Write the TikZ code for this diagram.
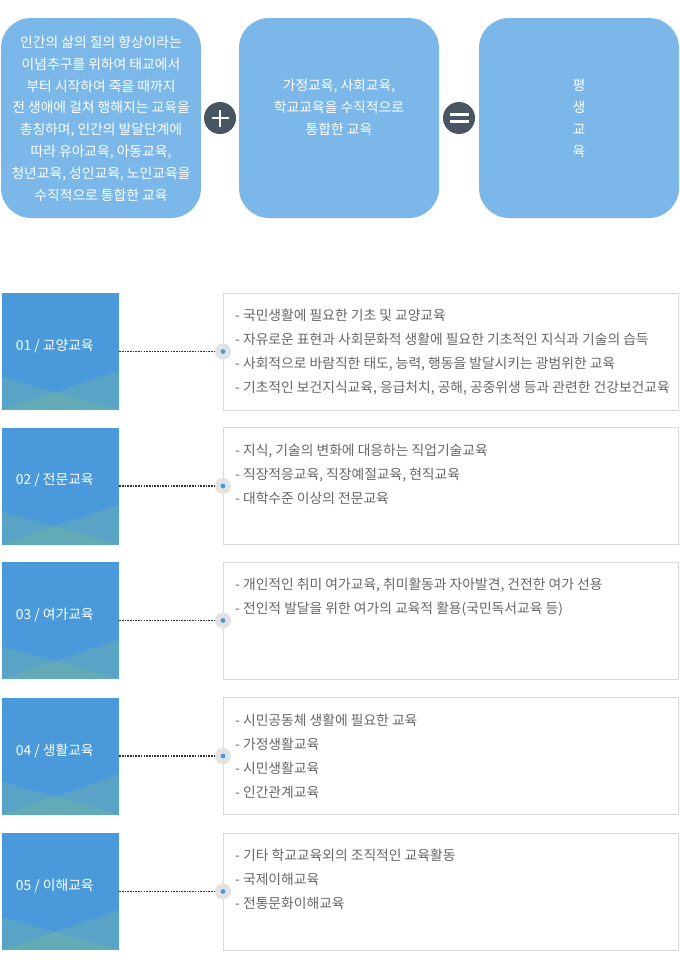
\documentclass[tikz,border=0pt]{standalone}
\usepackage{fontspec}
\setmainfont{Noto Sans CJK KR}
\definecolor{skyblue}{HTML}{7BB8E9}
\definecolor{rowblue}{HTML}{4A9ADB}
\definecolor{slate}{HTML}{485664}
\definecolor{linegray}{HTML}{D9D9D9}
\definecolor{txtgray}{HTML}{666666}
\definecolor{knobgray}{HTML}{E2E2E2}
\definecolor{dotgray}{HTML}{333333}
\definecolor{wavegreen}{RGB}{125,190,150}
\begin{document}
\begin{tikzpicture}[x=1pt,y=-1pt,
  topbox/.style={fill=skyblue,rounded corners=30pt,minimum width=200pt,minimum height=200pt,inner sep=0pt},
  toptext/.style={text=white,align=center,font=\fontsize{13.8}{21.8}\selectfont,inner sep=0pt},
  sign/.style={circle,fill=slate,minimum size=32pt,inner sep=0pt},
  rowbox/.style={fill=rowblue,minimum width=117pt,minimum height=117pt,inner sep=0pt},
  rowlabel/.style={text=white,font=\fontsize{13.8}{13.8}\selectfont,anchor=west,inner sep=0pt},
  wave/.style={fill=wavegreen,opacity=0.3},
  listbox/.style={draw=linegray,minimum width=455pt,minimum height=117pt,inner sep=0pt},
  listtext/.style={text=txtgray,align=left,font=\fontsize{13.8}{24}\selectfont,anchor=north west,inner sep=0pt},
  knob/.style={circle,fill=knobgray,minimum size=16pt,inner sep=0pt},
  link/.style={draw=dotgray,line width=1.6pt,dash pattern=on 1.6pt off 1.1pt}]
\useasboundingbox (0,0) rectangle (680,964);

% top: definition + integration = lifelong
\node (whole) [topbox] at (101,118) {};
\node (family) [topbox] at (339,118) {};
\node (lifelong) [topbox] at (579,118) {};
\node [toptext] at ([yshift=-0.5pt]whole.center) {인간의 삶의 질의 향상이라는\\이념추구를 위하여 태교에서\\부터 시작하여 죽을 때까지\\전 생애에 걸쳐 행해지는 교육을\\총칭하며, 인간의 발달단계에\\따라 유아교육, 아동교육,\\청년교육, 성인교육, 노인교육을\\수직적으로 통합한 교육};
\node [toptext,anchor=north] at (339,79) {가정교육, 사회교육,\\학교교육을 수직적으로\\통합한 교육};
\node [toptext,anchor=north] at (579,79) {평\\생\\교\\육};
\node (plus) [sign] at (220,118) {};
\node (equal) [sign] at (459,118) {};
\draw [white,line width=2.6pt] ([xshift=-8.5pt]plus.center) -- ([xshift=8.5pt]plus.center);
\draw [white,line width=2.6pt] ([yshift=-8.5pt]plus.center) -- ([yshift=8.5pt]plus.center);
\draw [white,line width=2.8pt] ([xshift=-9.5pt,yshift=3.2pt]equal.center) -- ([xshift=9.5pt,yshift=3.2pt]equal.center);
\draw [white,line width=2.8pt] ([xshift=-9.5pt,yshift=-3.2pt]equal.center) -- ([xshift=9.5pt,yshift=-3.2pt]equal.center);

% 01
\node (r1) [rowbox] at (60.5,351.5) {};
\fill [wave] ([yshift=33pt]r1.south west) -- (r1.south east) -- (r1.south west) -- cycle;
\fill [wave] ([yshift=40pt]r1.south east) -- (r1.south west) -- (r1.south east) -- cycle;
\node [rowlabel] at ([xshift=14pt,yshift=5.5pt]r1.west) {01 / 교양교육};
\node (l1) [listbox] at (450.5,351.5) {};
\node [listtext] at (235,309) {- 국민생활에 필요한 기초 및 교양교육\\- 자유로운 표현과 사회문화적 생활에 필요한 기초적인 지식과 기술의 습득\\- 사회적으로 바람직한 태도, 능력, 행동을 발달시키는 광범위한 교육\\- 기초적인 보건지식교육, 응급처치, 공해, 공중위생 등과 관련한 건강보건교육};
\node (k1) [knob] at (223,351.5) {};
\fill [rowblue] (k1) circle (2.4pt);
\draw [link] (r1.east) -- (k1.west);

% 02
\node (r2) [rowbox] at (60.5,486) {};
\fill [wave] ([yshift=33pt]r2.south west) -- (r2.south east) -- (r2.south west) -- cycle;
\fill [wave] ([yshift=40pt]r2.south east) -- (r2.south west) -- (r2.south east) -- cycle;
\node [rowlabel] at ([xshift=14pt,yshift=5.5pt]r2.west) {02 / 전문교육};
\node (l2) [listbox] at (450.5,486) {};
\node [listtext] at (235,443.5) {- 지식, 기술의 변화에 대응하는 직업기술교육\\- 직장적응교육, 직장예절교육, 현직교육\\- 대학수준 이상의 전문교육};
\node (k2) [knob] at (223,486) {};
\fill [rowblue] (k2) circle (2.4pt);
\draw [link] (r2.east) -- (k2.west);

% 03
\node (r3) [rowbox] at (60.5,620.5) {};
\fill [wave] ([yshift=33pt]r3.south west) -- (r3.south east) -- (r3.south west) -- cycle;
\fill [wave] ([yshift=40pt]r3.south east) -- (r3.south west) -- (r3.south east) -- cycle;
\node [rowlabel] at ([xshift=14pt,yshift=5.5pt]r3.west) {03 / 여가교육};
\node (l3) [listbox] at (450.5,620.5) {};
\node [listtext] at (235,578) {- 개인적인 취미 여가교육, 취미활동과 자아발견, 건전한 여가 선용\\- 전인적 발달을 위한 여가의 교육적 활용(국민독서교육 등)};
\node (k3) [knob] at (223,620.5) {};
\fill [rowblue] (k3) circle (2.4pt);
\draw [link] (r3.east) -- (k3.west);

% 04
\node (r4) [rowbox] at (60.5,756) {};
\fill [wave] ([yshift=33pt]r4.south west) -- (r4.south east) -- (r4.south west) -- cycle;
\fill [wave] ([yshift=40pt]r4.south east) -- (r4.south west) -- (r4.south east) -- cycle;
\node [rowlabel] at ([xshift=14pt,yshift=5.5pt]r4.west) {04 / 생활교육};
\node (l4) [listbox] at (450.5,756) {};
\node [listtext] at (235,713.5) {- 시민공동체 생활에 필요한 교육\\- 가정생활교육\\- 시민생활교육\\- 인간관계교육};
\node (k4) [knob] at (223,756) {};
\fill [rowblue] (k4) circle (2.4pt);
\draw [link] (r4.east) -- (k4.west);

% 05
\node (r5) [rowbox] at (60.5,891.5) {};
\fill [wave] ([yshift=33pt]r5.south west) -- (r5.south east) -- (r5.south west) -- cycle;
\fill [wave] ([yshift=40pt]r5.south east) -- (r5.south west) -- (r5.south east) -- cycle;
\node [rowlabel] at ([xshift=14pt,yshift=5.5pt]r5.west) {05 / 이해교육};
\node (l5) [listbox] at (450.5,891.5) {};
\node [listtext] at (235,849) {- 기타 학교교육외의 조직적인 교육활동\\- 국제이해교육\\- 전통문화이해교육};
\node (k5) [knob] at (223,891.5) {};
\fill [rowblue] (k5) circle (2.4pt);
\draw [link] (r5.east) -- (k5.west);
\end{tikzpicture}
\end{document}
